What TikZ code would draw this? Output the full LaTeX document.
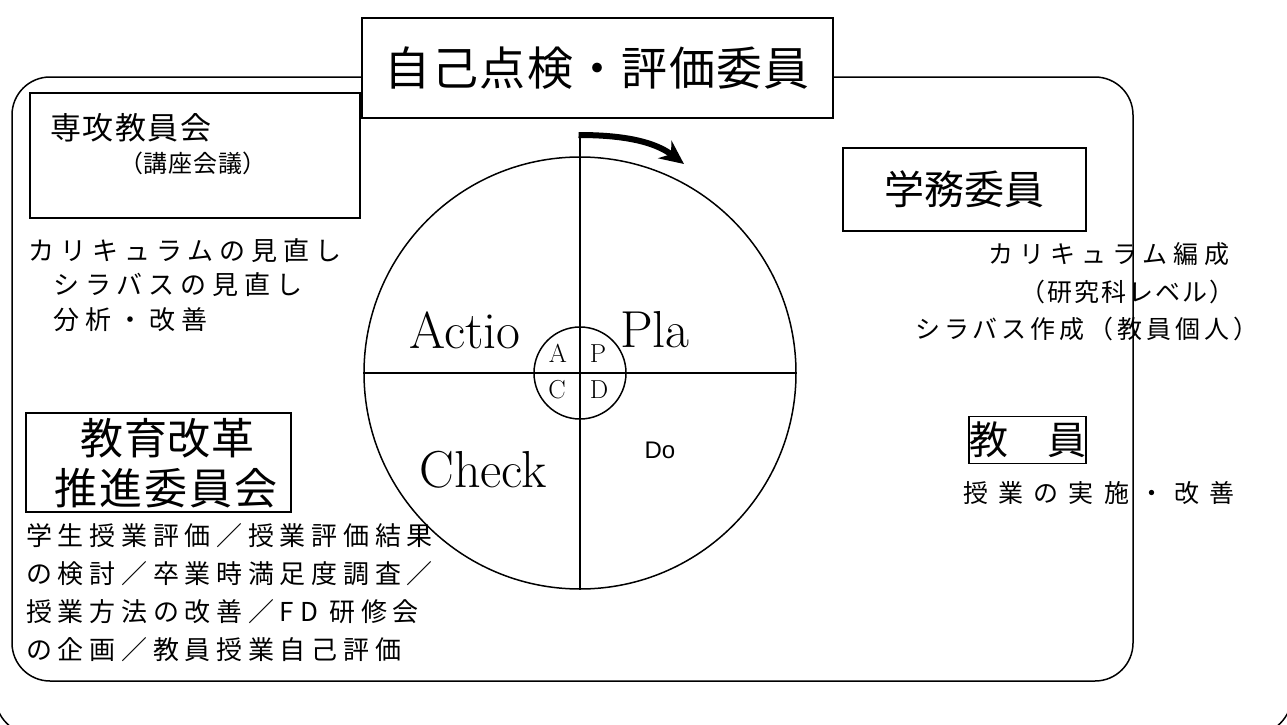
\documentclass[tikz,border=0pt]{standalone}
\usepackage{fontspec}
\newfontfamily\jp{Noto Sans CJK JP}
\newfontfamily\dofont{Liberation Sans}
\usetikzlibrary{arrows.meta}
\newcommand\jpt[3]{\jp\fontsize{#1pt}{#1pt}\selectfont\addfontfeatures{LetterSpace=#2}#3}
\begin{document}
\begin{tikzpicture}[x=1pt,y=-1pt,
  frame/.style={line width=1.5pt},
  lbl/.style={draw, line width=1.4pt, inner sep=0pt, fill=white},
  txt/.style={inner sep=0pt, anchor=west},
  big/.style={inner sep=0pt, font=\fontsize{52pt}{52pt}\selectfont},
  small/.style={inner sep=0pt, font=\fontsize{26pt}{26pt}\selectfont},
  ring/.style={circle, draw, line width=1.5pt, inner sep=0pt}]
\useasboundingbox (0,0) rectangle (1287,725);
\begin{scope}
\clip (0,0) rectangle (1287,725);
\draw[frame, rounded corners=40pt] (-5,-100) rectangle (1292,735);
\end{scope}
\draw[frame, rounded corners=38pt] (12,77) rectangle (1133,681);
\node[lbl, line width=2pt, minimum width=471pt, minimum height=100pt] (title) at (597.5,68) {\jpt{46}{3}{自己点検・評価委員}};
% left upper
\node[lbl, minimum width=330pt, minimum height=125pt] (senko) at (195,155.5) {};
\node[txt] (senko1) at (50,128) {\jpt{31}{5}{専攻教員会}};
\node[txt] (senko2) at (119,163) {\jpt{24}{3}{（講座会議）}};
\node[txt] (l1) at (28,251) {\jpt{26}{23}{カリキュラムの見直し}};
\node[txt] (l2) at (53,285) {\jpt{26}{23}{シラバスの見直し}};
\node[txt] (l3) at (53,320) {\jpt{26}{23}{分析・改善}};
% right upper
\node[lbl, minimum width=243pt, minimum height=83pt] (gakumu) at (964.5,189.5) {\jpt{40}{0}{学務委員}};
\node[txt] (r1) at (988,254) {\jpt{25}{24}{カリキュラム編成}};
\node[txt] (r2) at (1020,292) {\jpt{25}{8}{（研究科レベル）}};
\node[txt] (r3) at (915,329) {\jpt{25}{16}{シラバス作成（教員個人）}};
% right lower
\node[lbl, minimum width=117pt, minimum height=47pt] (kyoin) at (1027.5,440) {\jp\fontsize{39pt}{39pt}\selectfont 教　員};
\node[txt] (kyoin1) at (963,493) {\jpt{25}{41}{授業の実施・改善}};
% left lower
\node[lbl, minimum width=265pt, minimum height=99pt] (kyoiku) at (158.5,462.5) {};
\node[txt] (k1) at (80,438) {\jpt{43}{2}{教育改革}};
\node[txt] (k2) at (54,488) {\jpt{43}{5}{推進委員会}};
\node[txt] (b1) at (26,536) {\jpt{26}{22}{学生授業評価／授業評価結果}};
\node[txt] (b2) at (26,574) {\jpt{26}{22}{の検討／卒業時満足度調査／}};
\node[txt] (b3) at (26,612) {\jpt{26}{22}{授業方法の改善／FD 研修会}};
\node[txt] (b4) at (26,650) {\jpt{26}{22}{の企画／教員授業自己評価}};
% cycle
\node[ring, minimum size=432pt] (cyc) at (580,373) {};
\coordinate (vtop) at (580,132);
\draw[frame] (vtop) -- (cyc.south);
\draw[frame] (cyc.west) -- (cyc.east);
\node[ring, minimum size=92pt] (pdca) at (580,373) {};
\node[small] (la) at (558,353) {A};
\node[small] (lp) at (598,354) {P};
\node[small] (lc) at (557,390) {C};
\node[small] (ld) at (599,390) {D};
\node[big] (act) at (465,330) {Actio};
\node[big] (pla) at (655,330) {Pla};
\node[big] (chk) at (483,470) {Check};
\node[inner sep=0pt, font=\dofont\fontsize{24pt}{24pt}\selectfont] (do) at (660,450) {Do};
\coordinate (astart) at (578.5,135);
\coordinate (aend) at (684,164);
\draw[line width=6pt, -{Stealth[length=24pt,width=22pt]}] (astart) .. controls (625,135) and (655,142) .. (aend);
\end{tikzpicture}
\end{document}
